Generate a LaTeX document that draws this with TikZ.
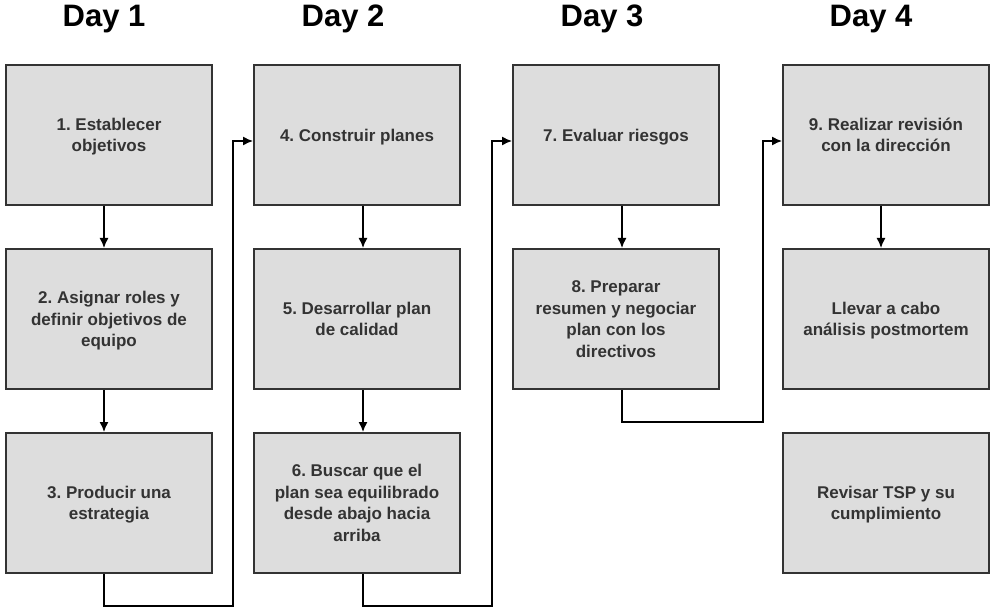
\documentclass[tikz,border=0pt]{standalone}
\usepackage{fontspec}
\setmainfont{Liberation Sans}
\usetikzlibrary{arrows.meta}
\definecolor{boxgray}{HTML}{DDDDDD}
\definecolor{txtgray}{HTML}{333333}
\frenchspacing

\begin{document}
\begin{tikzpicture} [x=1pt, y=-1pt,
 task/.style={draw=txtgray, line width=2pt, fill=boxgray, minimum width=206pt, minimum height=140pt, inner sep=0pt, text depth=0pt, align=center, text=txtgray, font=\fontsize{17}{21.5}\selectfont\bfseries},
 link/.style={black, line width=1.4pt, ->, >={Latex[length=10pt,width=9pt]}}]
\useasboundingbox (0,0) rectangle (1007,612);
\foreach \d/\x in {1/104, 2/343, 3/602, 4/871} {
 \node[anchor=base, font=\fontsize{31}{36}\selectfont\bfseries] (day\d) at (\x,27) {Day \d};
}
\node[task] (b1) at (109,135) {1. Establecer\\objetivos};
\node[task] (b2) at (109,319) {2. Asignar roles y\\definir objetivos de\\equipo};
\node[task] (b3) at (109,503) {3. Producir una\\estrategia};
\node[task] (b4) at (357,135) {4. Construir planes};
\node[task] (b5) at (357,319) {5. Desarrollar plan\\de calidad};
\node[task] (b6) at (357,503) {6. Buscar que el\\plan sea equilibrado\\desde abajo hacia\\arriba};
\node[task] (b7) at (616,135) {7. Evaluar riesgos};
\node[task] (b8) at (616,319) {8. Preparar\\resumen y negociar\\plan con los\\directivos};
\node[task] (b9) at (886,135) {9. Realizar revisión\\con la dirección};
\node[task] (b10) at (886,319) {Llevar a cabo\\análisis postmortem};
\node[task] (b11) at (886,503) {Revisar TSP y su\\cumplimiento};
\coordinate (c1) at (233,606);
\coordinate (c2) at (492,606);
\coordinate (c3) at (763,422);
\draw[link] ([xshift=-5pt]b1.south) -- ([xshift=-5pt]b2.north);
\draw[link] ([xshift=-5pt]b2.south) -- ([xshift=-5pt]b3.north);
\draw[link] ([xshift=6pt]b4.south) -- ([xshift=6pt]b5.north);
\draw[link] ([xshift=6pt]b5.south) -- ([xshift=6pt]b6.north);
\draw[link] ([xshift=6pt]b7.south) -- ([xshift=6pt]b8.north);
\draw[link] ([xshift=-5pt]b9.south) -- ([xshift=-5pt]b10.north);
\draw[link] ([xshift=-5pt]b3.south) |- (c1) |- ([yshift=-6pt]b4.west);
\draw[link] ([xshift=6pt]b6.south) |- (c2) |- ([yshift=-6pt]b7.west);
\draw[link] ([xshift=6pt]b8.south) |- (c3) |- ([yshift=-6pt]b9.west);
\end{tikzpicture}
\end{document}
